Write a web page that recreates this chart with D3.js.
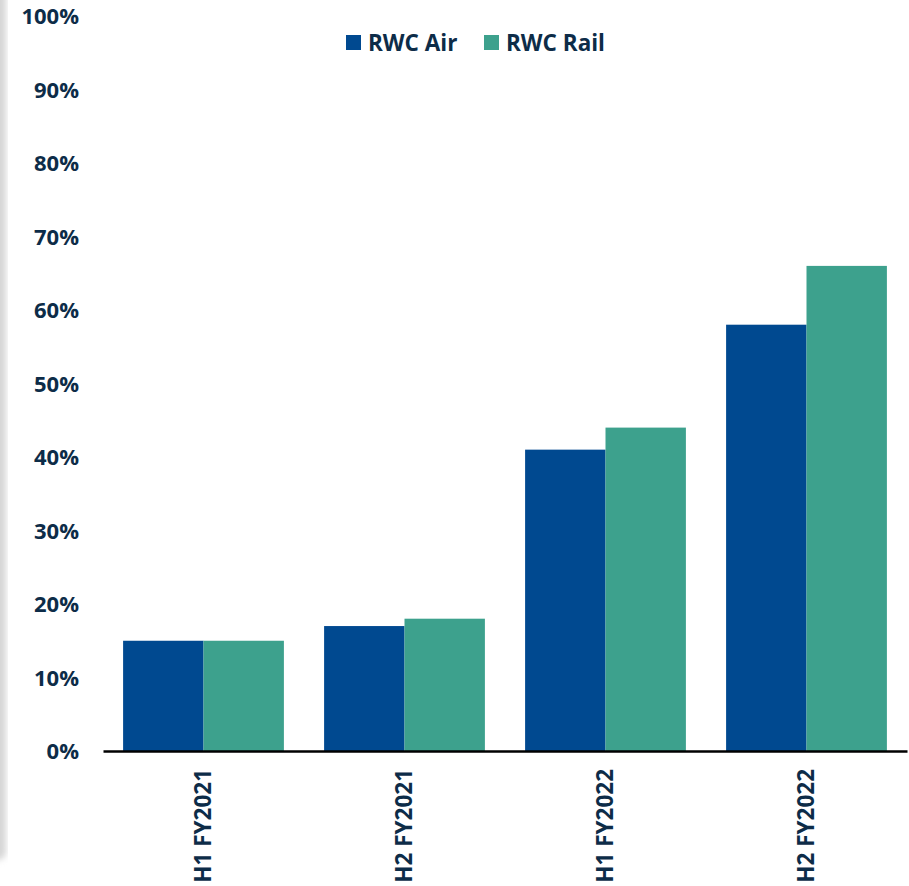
<!DOCTYPE html>
<html><head><meta charset="utf-8">
<script src="https://cdn.jsdelivr.net/npm/d3@7"></script>
<style>body{margin:0;background:#fff;}svg{display:block;}</style>
</head><body>
<svg id="c" width="909" height="886"></svg>
<script>
const categories = ["H1 FY2021", "H2 FY2021", "H1 FY2022", "H2 FY2022"];
const seriesNames = ["RWC Air", "RWC Rail"];
const airValues = [15, 17, 41, 58];
const railValues = [15, 18, 44, 66];
const yTicks = [0, 10, 20, 30, 40, 50, 60, 70, 80, 90, 100];
const colors = ["#004990", "#3da18d"];
const textColor = "#0d2c48";
const font = "'Open Sans', sans-serif";

const svg = d3.select("#c");
const defs = svg.append("defs");
const f = defs.append("filter").attr("id","blur").attr("x","-50%").attr("y","-50%").attr("width","200%").attr("height","200%");
f.append("feGaussianBlur").attr("stdDeviation", 3);
svg.append("rect").attr("x",-30).attr("y",-30).attr("width",36).attr("height",890)
  .attr("rx",8).attr("fill","#d6d6d6").attr("filter","url(#blur)");
svg.append("rect").attr("x",8).attr("y",-30).attr("width",920).attr("height",990).attr("fill","#fff");

const x = d3.scaleBand().domain(categories).range([103, 907]).paddingInner(0.2).paddingOuter(0.1);
const x1 = d3.scaleBand().domain(seriesNames).range([0, x.bandwidth()]);
const y = d3.scaleLinear().domain([0, 100]).range([751, 16]);

const data = categories.map((c, i) => ({cat: c, vals: [airValues[i], railValues[i]]}));
const g = svg.append("g");
data.forEach(d => {
  d.vals.forEach((v, j) => {
    g.append("rect")
      .attr("x", x(d.cat) + x1(seriesNames[j]))
      .attr("y", y(v))
      .attr("width", x1.bandwidth())
      .attr("height", y(0) - y(v))
      .attr("fill", colors[j]);
  });
});

const yAxis = d3.axisLeft(y).tickValues(yTicks).tickFormat(d => d + "%").tickSize(0).tickPadding(0);
const ya = svg.append("g").attr("transform", "translate(79,0)").call(yAxis);
ya.select(".domain").remove();
ya.selectAll("text").attr("font-family", font).attr("font-weight", "bold")
  .attr("font-size", "22px").attr("fill", textColor).attr("dy", "0.35em");

const xAxis = d3.axisBottom(x).tickSize(0).tickPadding(0);
const xa = svg.append("g").attr("transform", `translate(0,${y(0)})`).call(xAxis);
xa.select(".domain").attr("stroke", "#000").attr("stroke-width", 2.5);
xa.selectAll("text")
  .attr("font-family", font).attr("font-weight", "bold")
  .attr("font-size", "22.5px").attr("fill", textColor)
  .attr("transform", "rotate(-90)")
  .attr("text-anchor", "end").attr("x", -18).attr("y", 0).attr("dy", "0.35em");

const legendX = [346, 484];
seriesNames.forEach((n, j) => {
  svg.append("rect").attr("x", legendX[j]).attr("y", 35).attr("width", 15).attr("height", 15).attr("fill", colors[j]);
  svg.append("text").attr("x", legendX[j] + 22).attr("y", 51)
    .attr("font-family", font).attr("font-weight", "bold")
    .attr("font-size", "22.5px").attr("fill", textColor).text(n);
});
</script>
</body></html>
